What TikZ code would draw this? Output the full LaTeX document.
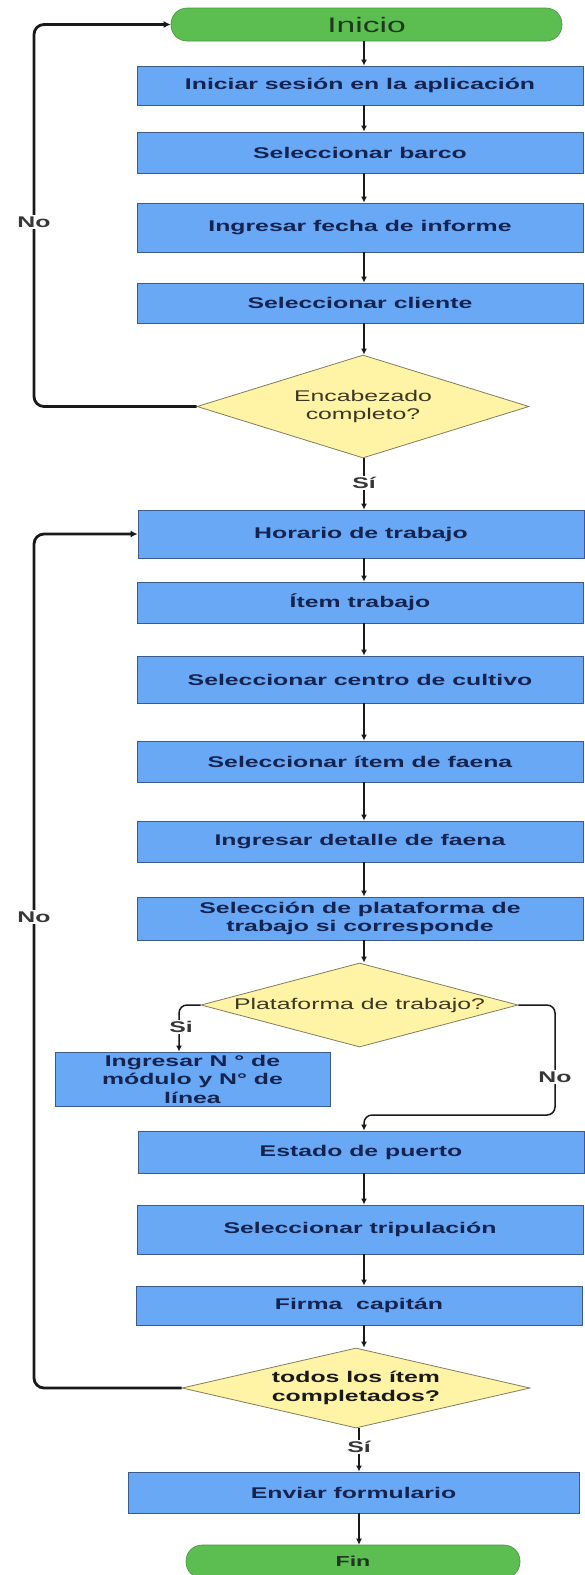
\documentclass[tikz,border=0pt]{standalone}
\usepackage{fontspec}
\setmainfont{Liberation Sans}[FakeStretch=1.6]
\usetikzlibrary{arrows.meta,shapes.geometric}
\definecolor{boxfill}{RGB}{104,168,245}
\definecolor{boxline}{RGB}{60,90,140}
\definecolor{navy}{RGB}{20,35,80}
\definecolor{diafill}{RGB}{255,243,165}
\definecolor{dialine}{RGB}{130,125,95}
\definecolor{termfill}{RGB}{92,190,80}
\definecolor{termline}{RGB}{70,150,60}
\definecolor{termtext}{RGB}{30,55,30}
\definecolor{linec}{RGB}{25,25,25}
\definecolor{labc}{RGB}{55,55,55}
\definecolor{diatext}{RGB}{60,55,35}
\begin{document}
\begin{tikzpicture}[x=1pt,y=-1pt,
  box/.style={draw=boxline, line width=0.8pt, fill=boxfill, text=navy,
    font=\fontsize{15.5}{18.5}\selectfont\bfseries, align=center,
    inner sep=0pt, minimum width=446pt},
  term/.style={draw=termline, line width=0.6pt, fill=termfill, rounded corners=16pt,
    inner sep=0pt, minimum height=33pt},
  dia/.style={shape=diamond, draw=dialine, line width=0.8pt, fill=diafill,
    inner sep=0pt, align=center, text=diatext,
    font=\fontsize{15.5}{18.5}\selectfont},
  arr/.style={-{Latex[length=6pt,width=6pt]}, line width=1.5pt, draw=linec},
  loopline/.style={-{Latex[length=7pt,width=7pt]}, line width=2.8pt, draw=linec, rounded corners=10pt},
  lab/.style={font=\fontsize{15.5}{18}\selectfont\bfseries, text=labc, fill=white, inner sep=1.5pt}
]
\useasboundingbox[fill=white] (0,0) rectangle (584,1575);

\coordinate (col) at (364,0);
\coordinate (colb) at (359,0);
\coordinate (lx) at (34,0);
\coordinate (sicol) at (179,0);
\coordinate (rbend) at (555,1115);

\node[term, minimum width=391pt, text=termtext, font=\fontsize{21}{24}\selectfont] (ini) at (366.5,24.5) {Inicio};
\node[box, minimum height=39pt] (b1) at (360,85.5) {Iniciar sesión en la aplicación};
\node[box, minimum height=41pt] (b2) at (360,152.5) {Seleccionar barco};
\node[box, minimum height=49pt] (b3) at (360,227.5) {Ingresar fecha de informe};
\node[box, minimum height=40pt] (b4) at (360,303) {Seleccionar cliente};
\node[dia, minimum width=332pt, minimum height=103pt, aspect=3.2] (d1) at (363,406.5) {Encabezado\\completo?};
\node[box, minimum height=48pt] (b5) at (361,534) {Horario de trabajo};
\node[box, minimum height=41pt] (b6) at (360,602.5) {Ítem trabajo};
\node[box, minimum height=47pt] (b7) at (360,679.5) {Seleccionar centro de cultivo};
\node[box, minimum height=41pt] (b8) at (360,761.5) {Seleccionar ítem de faena};
\node[box, minimum height=41pt] (b9) at (360,841.5) {Ingresar detalle de faena};
\node[box, minimum height=43pt] (b10) at (360,918.5) {Selección de plataforma de\\trabajo si corresponde};
\node[dia, minimum width=317pt, minimum height=84pt, aspect=3.77] (d2) at (359.5,1005) {Plataforma de trabajo?};
\node[box, minimum width=275pt, minimum height=54pt] (b11) at (192.5,1079) {Ingresar N ° de\\módulo y N° de\\línea};
\node[box, minimum height=42pt] (b12) at (361,1152) {Estado de puerto};
\node[box, minimum height=49pt] (b13) at (360,1229.5) {Seleccionar tripulación};
\node[box, minimum height=39pt] (b14) at (359,1305.5) {Firma\ \ capitán};
\node[dia, minimum width=348pt, minimum height=80pt, aspect=4.35, font=\fontsize{15.5}{18.5}\selectfont\bfseries, text=linec] (d3) at (356,1388) {todos los ítem\\completados?};
\node[box, minimum width=451pt, minimum height=41pt] (b15) at (353.5,1492.5) {Enviar formulario};
\node[term, minimum width=334pt, text=termtext, font=\fontsize{14.5}{17}\selectfont\bfseries] (fin) at (353,1561.5) {Fin};

% main flow
\draw[arr] (ini.south -| col) -- (b1.north -| col);
\draw[arr] (b1.south -| col) -- (b2.north -| col);
\draw[arr] (b2.south -| col) -- (b3.north -| col);
\draw[arr] (b3.south -| col) -- (b4.north -| col);
\draw[arr] (b4.south -| col) -- (d1.north -| col);
\draw[arr] (d1.south -| col) -- (b5.north -| col);
\draw[arr] (b5.south -| col) -- (b6.north -| col);
\draw[arr] (b6.south -| col) -- (b7.north -| col);
\draw[arr] (b7.south -| col) -- (b8.north -| col);
\draw[arr] (b8.south -| col) -- (b9.north -| col);
\draw[arr] (b9.south -| col) -- (b10.north -| col);
\draw[arr] (b10.south -| col) -- (d2.north -| col);
\draw[arr, rounded corners=8pt] (d2.west) -| (b11.north -| sicol);
\draw[arr, rounded corners=8pt] (d2.east) -| (rbend) -| (b12.north -| col);
\draw[arr] (b12.south -| col) -- (b13.north -| col);
\draw[arr] (b13.south -| col) -- (b14.north -| col);
\draw[arr] (b14.south -| col) -- (d3.north -| col);
\draw[arr] (d3.south -| colb) -- (b15.north -| colb);
\draw[arr] (b15.south -| colb) -- (fin.north -| colb);

% loops
\draw[loopline] (d1.west) -| (lx |- ini.west) -- (ini.west);
\draw[loopline] (d3.west) -| (lx |- b5.west) -- (b5.west);

% labels
\node[lab] (no1) at (34,222) {No};
\node[lab] (no2) at (34,917) {No};
\node[lab] (no3) at (555,1077) {No};
\node[lab] (si1) at (364,483) {Sí};
\node[lab] (si2) at (181,1027) {Si};
\node[lab] (si3) at (359,1447) {Sí};
\end{tikzpicture}
\end{document}
